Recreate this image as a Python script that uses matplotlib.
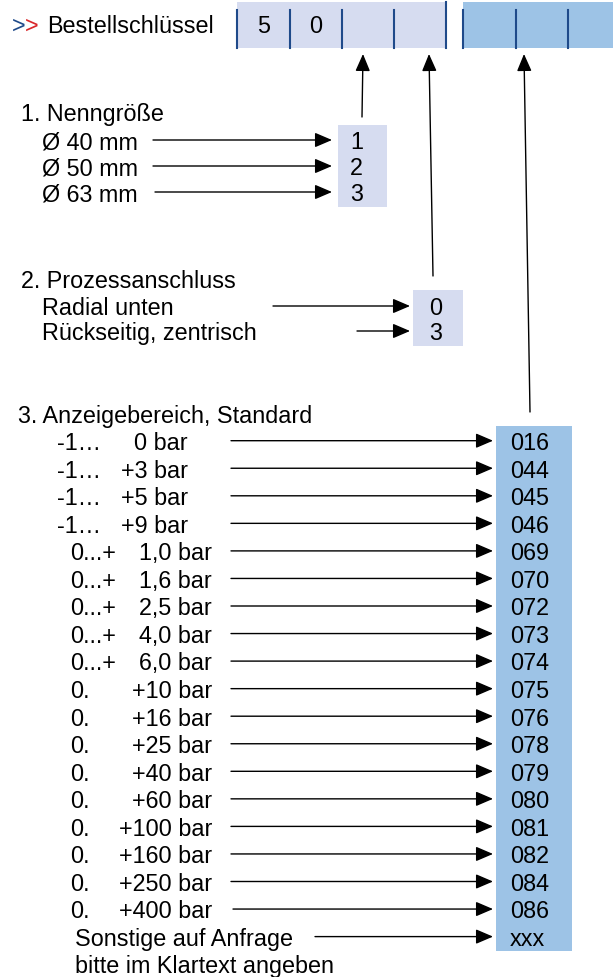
import matplotlib
matplotlib.use('Agg')
import matplotlib.pyplot as plt
from matplotlib.patches import Rectangle

# ---------------- data ----------------
header_title = 'Bestellschlüssel'
header_digits = ['5', '0', '', '']

size_title = '1. Nenngröße'
size_labels = ['Ø 40 mm', 'Ø 50 mm', 'Ø 63 mm']
size_codes = ['1', '2', '3']

conn_title = '2. Prozessanschluss'
conn_labels = ['Radial unten', 'Rückseitig, zentrisch']
conn_codes = ['0', '3']

range_title = '3. Anzeigebereich, Standard'
range_from = ['-1…'] * 4 + ['0...+'] * 5 + ['0.'] * 9
range_to = ['0 bar', '+3 bar', '+5 bar', '+9 bar',
            '1,0 bar', '1,6 bar', '2,5 bar', '4,0 bar', '6,0 bar',
            '+10 bar', '+16 bar', '+25 bar', '+40 bar', '+60 bar',
            '+100 bar', '+160 bar', '+250 bar', '+400 bar']
range_codes = ['016', '044', '045', '046', '069', '070', '072', '073', '074',
               '075', '076', '078', '079', '080', '081', '082', '084', '086']
other_label = 'Sonstige auf Anfrage'
other_code = 'xxx'
other_note = 'bitte im Klartext angeben'

# ---------------- styling ----------------
W, H = 613, 978
FONT = 'Liberation Sans'
FS = 16.8
LIGHT = '#D6DCF0'
BLUE = '#9DC3E6'
NAVY = '#1F4A8A'
RED = '#D9262A'
STEP = 27.55
CAP = 8.3  # half cap height in px (baseline offset)

fig = plt.figure(figsize=(W / 100, H / 100), dpi=100)
ax = fig.add_axes([0, 0, 1, 1])
ax.set_xlim(0, W)
ax.set_ylim(H, 0)
ax.axis('off')


def txt(x, y, s, ha='left', color='black', **kw):
    ax.text(x, y + CAP, s, ha=ha, va='baseline', fontsize=FS,
            family=[FONT, 'DejaVu Sans'], color=color, **kw)


def arrow(x0, y0, x1, y1):
    ax.annotate('', xy=(x1, y1), xytext=(x0, y0),
                arrowprops=dict(arrowstyle='-|>,head_length=1.05,head_width=0.45',
                                mutation_scale=10, lw=1.0, color='black',
                                shrinkA=0, shrinkB=0))


# ---------------- header ----------------
hy = 25
txt(12, hy, '>', color=NAVY)
txt(25, hy, '>', color=RED)
txt(47, hy, header_title)

ax.add_patch(Rectangle((237, 3), 446 - 237, 46, facecolor=LIGHT, edgecolor='none'))
ax.add_patch(Rectangle((463, 3), W - 463, 46, facecolor=BLUE, edgecolor='none'))
light_seps = [237, 290, 342, 394]
for xs in light_seps:
    ax.plot([xs, xs], [11, 49], color=NAVY, lw=1.5)
ax.plot([446, 446], [3, 49], color=NAVY, lw=1.5)
for xs in [463, 516, 568]:
    ax.plot([xs, xs], [11, 49], color=NAVY, lw=1.5)
edges = light_seps + [446]
for i, d in enumerate(header_digits):
    if d:
        txt((edges[i] + edges[i + 1]) / 2, hy, d, ha='center')

# up arrows to the header cells
arrow(362, 118, 363, 55)
arrow(433, 277, 429, 55)
arrow(530, 413, 524, 55)

# ---------------- section 1 ----------------
y1 = 113
txt(21, y1, size_title)
ax.add_patch(Rectangle((338, 126), 387 - 338, 208 - 126, facecolor=LIGHT, edgecolor='none'))
starts1 = [153, 153, 155]
for i, (lab, code) in enumerate(zip(size_labels, size_codes)):
    y = 141 + 26 * i
    txt(42, y, lab)
    arrow(starts1[i], y, 332, y)
    txt(350, y, code)

# ---------------- section 2 ----------------
y2 = 280
txt(21, y2, conn_title)
ax.add_patch(Rectangle((413, 291), 463 - 413, 347 - 291, facecolor=LIGHT, edgecolor='none'))
starts2 = [273, 357]
for i, (lab, code) in enumerate(zip(conn_labels, conn_codes)):
    y = 307 + 25 * i
    txt(42, y, lab)
    arrow(starts2[i], y, 410, y)
    txt(429, y, code)

# ---------------- section 3 ----------------
y3 = 415
txt(18, y3, range_title)
ax.add_patch(Rectangle((496, 427), 572 - 496, 952 - 427, facecolor=BLUE, edgecolor='none'))
for i, (fr, to, code) in enumerate(zip(range_from, range_to, range_codes)):
    y = 441.7 + STEP * i
    if fr.startswith('-'):
        txt(57, y, fr)
        txt(188, y, to, ha='right')
    else:
        txt(70, y, fr)
        txt(212, y, to, ha='right')
    arrow(231 if i < len(range_codes) - 1 else 233, y, 493, y)
    txt(510, y, code)

y = 441.7 + STEP * len(range_codes)
txt(75, y, other_label)
arrow(315, y, 493, y)
txt(510, y, other_code)
txt(75, y + STEP, other_note)

fig.savefig('out.png', dpi=100)
